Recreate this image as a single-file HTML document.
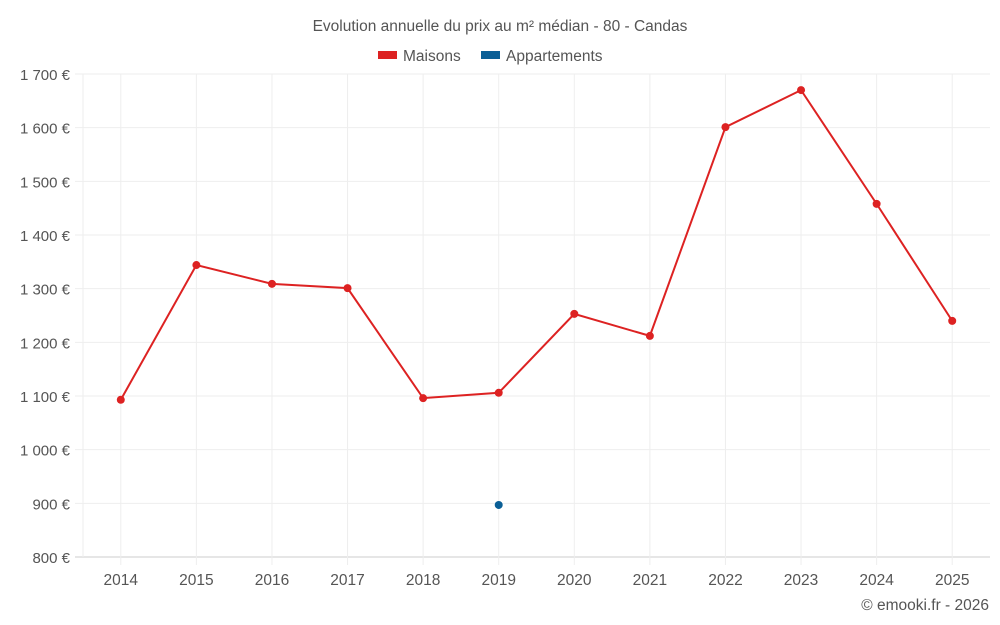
<!DOCTYPE html>
<html><head><meta charset="utf-8"><style>
body{margin:0;background:#fff;font-family:"Liberation Sans",sans-serif;}
svg{display:block}
</style></head><body>
<svg id="c" width="1000" height="625">
<text x="500" y="31" text-anchor="middle" font-size="15.5" fill="#555">Evolution annuelle du prix au m² médian - 80 - Candas</text>
<g>
<g><rect x="378" y="51" width="19" height="8" fill="#dd2222"/><text x="403" y="61" font-size="15.5" fill="#555">Maisons</text></g>
<g><rect x="481" y="51" width="19" height="8" fill="#0b5f96"/><text x="506" y="61" font-size="15.5" fill="#555">Appartements</text></g>
</g>
<g id="grid"></g><g id="axes"></g><g id="marks"></g>
<text x="989" y="610" text-anchor="end" font-size="15.5" fill="#555">© emooki.fr - 2026</text>
</svg>
<script>
const years=["2014","2015","2016","2017","2018","2019","2020","2021","2022","2023","2024","2025"];
const maisons=[1093,1344,1309,1301,1096,1106,1253,1212,1601,1670,1458,1240];
const appartements=[null,null,null,null,null,897,null,null,null,null,null,null];
const yTicks=[800,900,1000,1100,1200,1300,1400,1500,1600,1700];
const L=83,R=990,T=74,B=557,yMin=800,yMax=1700;
const NS="http://www.w3.org/2000/svg";
const bw=(R-L)/years.length;
const x=i=>L+bw*(i+0.5);
const y=v=>B-(v-yMin)/(yMax-yMin)*(B-T);
function el(t,a,p){const e=document.createElementNS(NS,t);for(const k in a)e.setAttribute(k,a[k]);document.getElementById(p).appendChild(e);return e;}
yTicks.forEach(v=>{
 const l=el('line',{x1:75,x2:R,y1:y(v),y2:y(v),stroke:v===yMin?'#ccc':'#eee'},'grid');
 
 
 const t=el('text',{x:70,y:y(v)+6,'text-anchor':'end','font-size':15,fill:'#555'},'axes');
 t.textContent=String(v).replace(/\B(?=(\d{3})+$)/,' ')+' €';
 
 
});
const edge=el('line',{x1:L,x2:L,y1:T,y2:B,stroke:'#eee'},'grid');


years.forEach((yr,i)=>{
 const l=el('line',{x1:x(i),x2:x(i),y1:T,y2:B+8,stroke:'#eee'},'grid');
 
 
 const t=el('text',{x:x(i),y:585,'text-anchor':'middle','font-size':15.5,fill:'#555'},'axes');
 t.textContent=yr;
 
 
});
const pts=maisons.map((v,i)=>x(i)+','+y(v)).join(' ');
const pl=el('polyline',{points:pts,fill:'none',stroke:'#dd2222','stroke-width':2},'marks');


maisons.forEach((v,i)=>{
 const c=el('circle',{cx:x(i),cy:y(v),r:4,fill:'#dd2222'},'marks');
 
 
});
appartements.forEach((v,i)=>{
 if(v==null)return;
 const c=el('circle',{cx:x(i),cy:y(v),r:4,fill:'#0b5f96'},'marks');
 
 
});
</script>
</body></html>
